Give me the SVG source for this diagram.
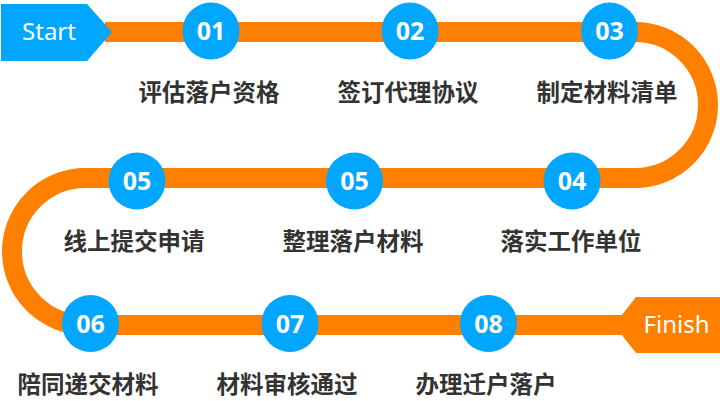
<svg xmlns="http://www.w3.org/2000/svg" width="720" height="401" viewBox="0 0 720 401">
<style>
.band{fill:none;stroke:#FF8000;stroke-width:20}
.dot{fill:#00A6FF}
.num{font-family:"Noto Sans","Open Sans","DejaVu Sans",sans-serif;font-weight:700;font-size:25px;fill:#fff;text-anchor:middle}
.lbl{font-family:"Noto Sans CJK SC","Noto Sans",sans-serif;font-weight:700;font-size:23.5px;fill:#333;text-anchor:middle}
.tag{font-family:"Noto Sans","Open Sans",sans-serif;font-size:24px;fill:#fff;text-anchor:middle}
</style>
<rect width="720" height="401" fill="#fff"/>
<g id="connectors">
<path class="band" d="M105 32 H635 A73 73 0 0 1 635 178 H85.5 A73.5 73.5 0 0 0 85.5 325 H640"/>
</g>
<g id="start">
<polygon points="1,4 87,4 112,32 87,61 1,61" fill="#00A6FF"/>
<text class="tag" x="49" y="40">Start</text>
</g>
<g id="finish">
<polygon points="636,297 720,297 720,353 636,353 614,325" fill="#FF8000"/>
<text class="tag" x="676.5" y="333">Finish</text>
</g>
<g id="n01"><circle class="dot" cx="211" cy="31" r="28.5"/><text class="num" x="211" y="40">01</text><text class="lbl" x="209" y="101">评估落户资格</text></g>
<g id="n02"><circle class="dot" cx="410" cy="31" r="28.5"/><text class="num" x="410" y="40">02</text><text class="lbl" x="408" y="101">签订代理协议</text></g>
<g id="n03"><circle class="dot" cx="609.5" cy="31" r="28.5"/><text class="num" x="609.5" y="40">03</text><text class="lbl" x="607" y="101">制定材料清单</text></g>
<g id="n04"><circle class="dot" cx="572" cy="181" r="28.5"/><text class="num" x="572" y="190">04</text><text class="lbl" x="571" y="250">落实工作单位</text></g>
<g id="n05b"><circle class="dot" cx="354.5" cy="181" r="28.5"/><text class="num" x="354.5" y="190">05</text><text class="lbl" x="353" y="250">整理落户材料</text></g>
<g id="n05a"><circle class="dot" cx="137" cy="181" r="28.5"/><text class="num" x="137" y="190">05</text><text class="lbl" x="134" y="250">线上提交申请</text></g>
<g id="n06"><circle class="dot" cx="90.5" cy="323.5" r="28.5"/><text class="num" x="90.5" y="332.5">06</text><text class="lbl" x="88" y="393">陪同递交材料</text></g>
<g id="n07"><circle class="dot" cx="290" cy="323.5" r="28.5"/><text class="num" x="290" y="332.5">07</text><text class="lbl" x="287" y="393">材料审核通过</text></g>
<g id="n08"><circle class="dot" cx="488.5" cy="323.5" r="28.5"/><text class="num" x="488.5" y="332.5">08</text><text class="lbl" x="486" y="393">办理迁户落户</text></g>
</svg>
